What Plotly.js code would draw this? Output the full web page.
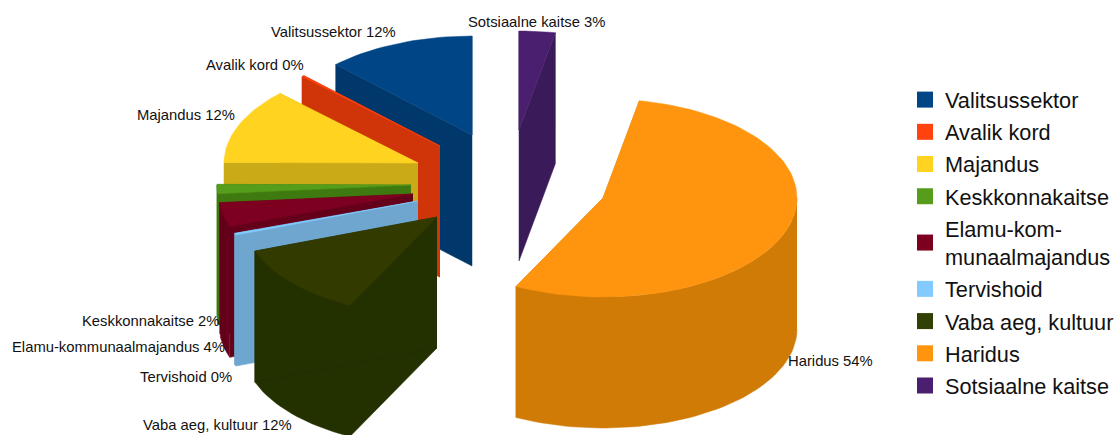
<!DOCTYPE html>
<html>
<head>
<meta charset="utf-8">
<script src="https://cdn.plot.ly/plotly-3.0.1.min.js"></script>
<style>html,body{margin:0;padding:0;background:#fff}#chart{width:1116px;height:435px}</style>
</head>
<body>
<div id="chart"></div>
<script>
// ---- data (percent shares, clockwise order is the reverse of this list) ----
const categories = ['Valitsussektor','Avalik kord','Majandus','Keskkonnakaitse','Elamu-kommunaalmajandus','Tervishoid','Vaba aeg, kultuur','Haridus','Sotsiaalne kaitse'];
const legendNames = ['Valitsussektor','Avalik kord','Majandus','Keskkonnakaitse','Elamu-kom-<br>munaalmajandus','Tervishoid','Vaba aeg, kultuur','Haridus','Sotsiaalne kaitse'];
const shares = [12.4, 0.2, 12.3, 1.5, 3.9, 0.3, 12.0, 54.4, 3.0];

// ---- styles ----
const topColors  = ['#004586','#ff420e','#ffd320','#579d1c','#7e0021','#83caff','#333a00','#ff950e','#4b1f6f'];
const wallColors = ['#00386b','#cf3508','#cbaa18','#3f7a10','#65001a','#6fa6cf','#233000','#cf7b06','#3a1a58'];
const legendColors = ['#004586','#ff420e','#ffd320','#579d1c','#7e0021','#83caff','#314004','#ff950e','#4b1f6f'];

// ---- projection and explode offsets (slice apex on the canvas) ----
const rx = 194, ry = 99, depth = 131;
const apexX = [472, 440, 418, 411, 413, 418, 437, 603, 519];
const apexY = [135, 146, 163, 185, 194, 201, 217, 198, 130];
const labelX = [271, 206, 137, 82, 12, 140, 143, 788, 468];
const labelY = [32, 65, 115, 321, 347, 377, 425, 361, 22];

// ---- geometry derived from the shares ----
const total = shares.reduce((a, b) => a + b, 0);
const traces = [];
let end = 360;                       // clockwise degrees from 12 o'clock
const spans = shares.map(v => { const hi = end; end -= v / total * 360; return [end, hi]; });

function poly(xs, ys, color, name) {
  traces.push({type:'scatter', mode:'lines', x:xs, y:ys, fill:'toself', fillcolor:color,
    line:{color:color, width:0.5}, hoverinfo:'skip', showlegend:false, name:name});
}
function arc(i, a0, a1, dy) {
  const n = Math.max(2, Math.ceil(Math.abs(a1 - a0) / 2) + 1), xs = [], ys = [];
  for (let k = 0; k < n; k++) {
    const t = (a0 + (a1 - a0) * k / (n - 1)) * Math.PI / 180;
    xs.push(apexX[i] + rx * Math.sin(t));
    ys.push(apexY[i] - ry * Math.cos(t) + dy);
  }
  return [xs, ys];
}
shares.forEach((v, i) => {
  const [a0, a1] = spans[i], ax = apexX[i], ay = apexY[i];
  const [tx, ty] = arc(i, a0, a1, 0);
  const w = wallColors[i];
  // outer curved wall: only its front half (90..270 degrees) can be seen
  const f0 = Math.max(a0, 90), f1 = Math.min(a1, 270);
  if (f1 > f0) {
    const [ux, uy] = arc(i, f0, f1, 0);
    const [bx, by] = arc(i, f1, f0, depth);
    poly(ux.concat(bx), uy.concat(by), w, categories[i]);
  }
  // two cut walls
  [0, tx.length - 1].forEach(j => {
    poly([ax, tx[j], tx[j], ax], [ay, ty[j], ty[j] + depth, ay + depth], w, categories[i]);
  });
  // top face
  poly([ax].concat(tx, [ax]), [ay].concat(ty, [ay]), topColors[i], categories[i]);
});

// legend entries
legendNames.forEach((n, i) => {
  traces.push({type:'scatter', mode:'markers', x:[null], y:[null], name:n, legendgroup:'g' + i,
    marker:{symbol:'square', size:16, color:legendColors[i]}, hoverinfo:'skip'});
});

const annotations = categories.map((c, i) => ({
  xref:'x', yref:'y', x:labelX[i], y:labelY[i], xanchor:'left', yanchor:'middle', showarrow:false,
  borderpad:0, borderwidth:0,
  text: c + ' ' + Math.round(shares[i]) + '%',
  font:{family:'Liberation Sans, Arial, sans-serif', size:14.8, color:'#111'}
}));

const layout = {
  width:1116, height:435, paper_bgcolor:'#fff', plot_bgcolor:'#fff',
  margin:{l:0, r:0, t:0, b:0, autoexpand:false},
  xaxis:{range:[0,1116], visible:false, fixedrange:true},
  yaxis:{range:[435,0], visible:false, fixedrange:true},
  hovermode:false, showlegend:true, annotations:annotations,
  legend:{x:905/1116, xanchor:'left', y:1-79/435, yanchor:'top', tracegroupgap:1, itemclick:false, itemdoubleclick:false,
    bgcolor:'rgba(0,0,0,0)', font:{family:'Liberation Sans, Arial, sans-serif', size:21.7, color:'#111'}}
};
Plotly.newPlot('chart', traces, layout, {displayModeBar:false, staticPlot:true});
</script>
</body>
</html>
